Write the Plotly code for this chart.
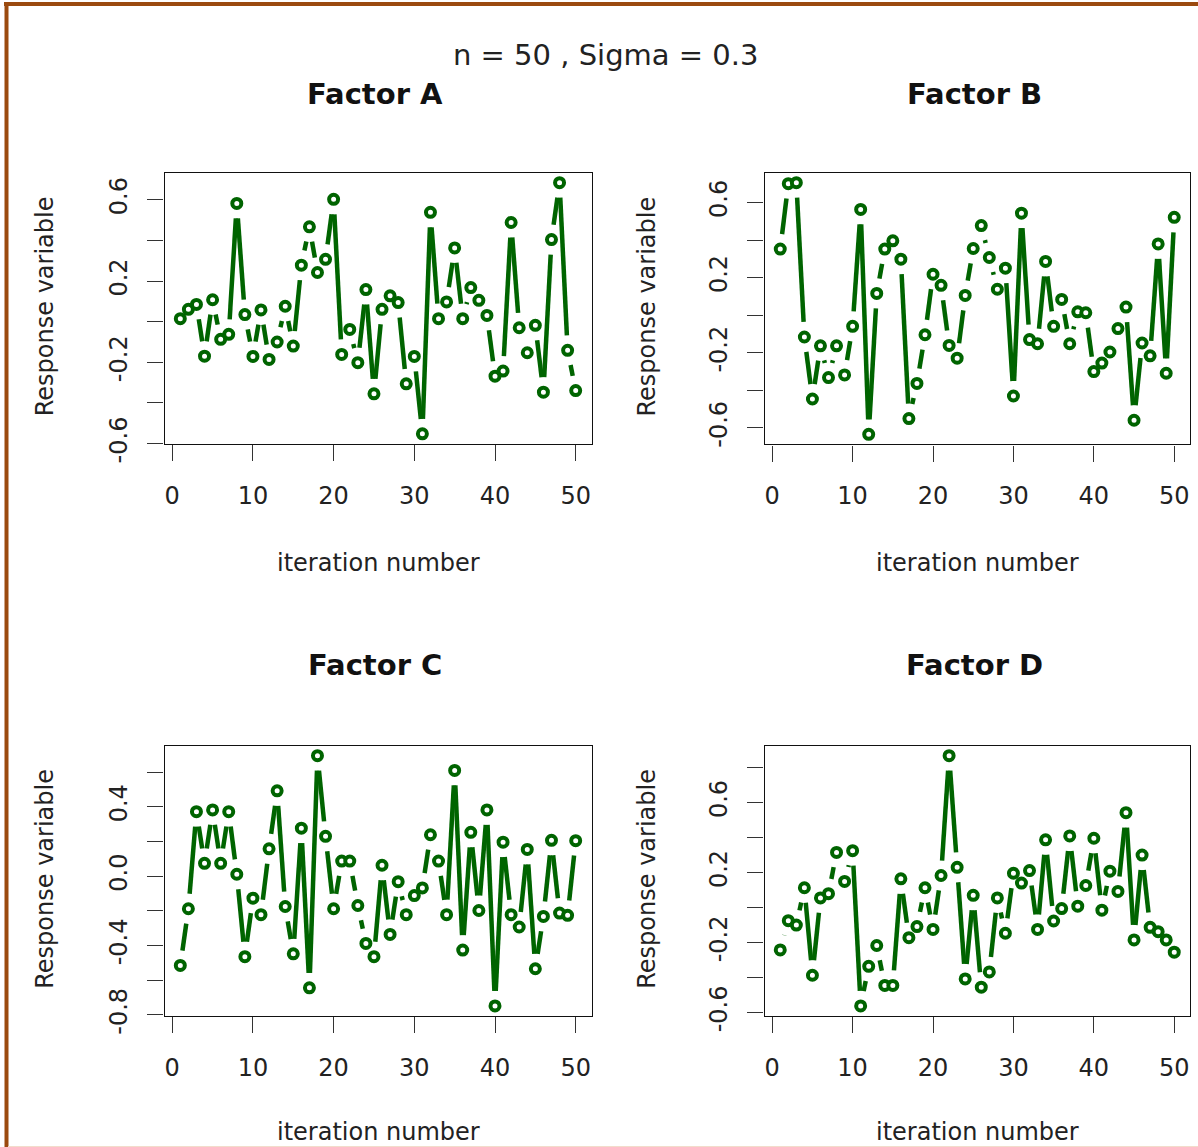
import math
import plotly.graph_objects as go

W, H = 1198, 1147          # target picture size (px)
FIG_H = 1168               # figure height (the page photo is squeezed to H)

# ---------------- data ----------------
iterations = list(range(1, 51))

factor_a = [0.015, 0.061, 0.085, -0.170, 0.108, -0.087, -0.062, 0.582, 0.035, -0.171,
            0.058, -0.186, -0.100, 0.076, -0.120, 0.278, 0.467, 0.242, 0.307, 0.602,
            -0.161, -0.038, -0.202, 0.158, -0.355, 0.061, 0.127, 0.094, -0.306, -0.171,
            -0.552, 0.538, 0.015, 0.097, 0.363, 0.015, 0.168, 0.105, 0.031, -0.268,
            -0.243, 0.488, -0.030, -0.153, -0.018, -0.347, 0.404, 0.684, -0.141, -0.339]

factor_b = [0.352, 0.700, 0.705, -0.116, -0.446, -0.163, -0.332, -0.163, -0.318, -0.059,
            0.563, -0.634, 0.116, 0.352, 0.396, 0.298, -0.550, -0.363, -0.104, 0.218,
            0.159, -0.161, -0.229, 0.105, 0.355, 0.477, 0.307, 0.138, 0.250, -0.430,
            0.543, -0.130, -0.152, 0.286, -0.059, 0.084, -0.152, 0.018, 0.013, -0.300,
            -0.255, -0.196, -0.071, 0.043, -0.559, -0.148, -0.216, 0.379, -0.309, 0.521]

factor_c = [-0.515, -0.188, 0.372, 0.074, 0.382, 0.074, 0.372, 0.011, -0.464, -0.127,
            -0.222, 0.158, 0.492, -0.175, -0.448, 0.277, -0.644, 0.695, 0.230, -0.188,
            0.087, 0.087, -0.169, -0.388, -0.464, 0.063, -0.336, -0.032, -0.222, -0.112,
            -0.068, 0.239, 0.087, -0.222, 0.610, -0.426, 0.253, -0.198, 0.382, -0.748,
            0.196, -0.222, -0.293, 0.154, -0.534, -0.232, 0.207, -0.213, -0.226, 0.205]

factor_d = [-0.242, -0.075, -0.100, 0.113, -0.387, 0.055, 0.079, 0.315, 0.149, 0.325,
            -0.562, -0.336, -0.217, -0.445, -0.445, 0.164, -0.172, -0.109, 0.113, -0.125,
            0.183, 0.868, 0.230, -0.408, 0.070, -0.455, -0.368, 0.055, -0.147, 0.196,
            0.140, 0.211, -0.125, 0.387, -0.077, -0.006, 0.409, 0.008, 0.126, 0.396,
            -0.015, 0.208, 0.092, 0.542, -0.185, 0.300, -0.113, -0.138, -0.185, -0.255]

panel_titles = ["Factor A", "Factor B", "Factor C", "Factor D"]
main_title = "n = 50 , Sigma = 0.3"
x_title = "iteration number"
y_title = "Response variable"

x_tick_vals = [0, 10, 20, 30, 40, 50]
x_tick_text = ["0", "10", "20", "30", "40", "50"]

y_ticks_a = [-0.6, -0.4, -0.2, 0.0, 0.2, 0.4, 0.6]
y_text_a = ["-0.6", "", "-0.2", "", "0.2", "", "0.6"]
y_ticks_b = [-0.6, -0.4, -0.2, 0.0, 0.2, 0.4, 0.6]
y_text_b = ["-0.6", "", "-0.2", "", "0.2", "", "0.6"]
y_ticks_c = [-0.8, -0.6, -0.4, -0.2, 0.0, 0.2, 0.4, 0.6]
y_text_c = ["-0.8", "", "-0.4", "", "0.0", "", "0.4", ""]
y_ticks_d = [-0.6, -0.4, -0.2, 0.0, 0.2, 0.4, 0.6, 0.8]
y_text_d = ["-0.6", "", "-0.2", "", "0.2", "", "0.6", ""]

series = [factor_a, factor_b, factor_c, factor_d]
y_ticks = [y_ticks_a, y_ticks_b, y_ticks_c, y_ticks_d]
y_texts = [y_text_a, y_text_b, y_text_c, y_text_d]

# ---------------- layout geometry (target pixels) ----------------
boxes = [(164.5, 591.5, 172.5, 443.5),
         (764.5, 1190.0, 172.5, 444.0),
         (164.5, 591.5, 745.0, 1015.0),
         (764.5, 1190.0, 745.0, 1015.0)]

GREEN = "#006400"
FONT = "DejaVu Sans"
TXT = "#222222"
GAP_PX = 15
VS = FIG_H / H   # vertical stretch before the squeeze


def fx(p):
    return p / W


def fy(p):
    return 1 - p / H


def pad_range(lo, hi):
    d = (hi - lo) * 0.04
    return [lo - d, hi + d]


def gapped_segments(xs, ys, xr, yr, wpx, hpx, gap):
    """Segments between consecutive points, stopping short of each point (R type='b')."""
    sx = wpx / (xr[1] - xr[0])
    sy = hpx / (yr[1] - yr[0])
    ox, oy = [], []
    for k in range(len(xs) - 1):
        dxp = (xs[k + 1] - xs[k]) * sx
        dyp = (ys[k + 1] - ys[k]) * sy
        dist = math.hypot(dxp, dyp)
        if dist <= 2 * gap:
            continue
        f = gap / dist
        dx = xs[k + 1] - xs[k]
        dy = ys[k + 1] - ys[k]
        ox += [xs[k] + f * dx, xs[k + 1] - f * dx, None]
        oy += [ys[k] + f * dy, ys[k + 1] - f * dy, None]
    return ox, oy


fig = go.Figure()
layout = dict(
    width=W, height=FIG_H,
    margin=dict(l=0, r=0, t=0, b=0),
    paper_bgcolor="white", plot_bgcolor="white",
    showlegend=False,
    annotations=[], shapes=[],
)

for i, vals in enumerate(series):
    n = i + 1
    xa = "x" if n == 1 else f"x{n}"
    ya = "y" if n == 1 else f"y{n}"
    l, r, t, b = boxes[i]
    xr = pad_range(min(iterations), max(iterations))
    yr = pad_range(min(vals), max(vals))

    sx_, sy_ = gapped_segments(iterations, vals, xr, yr, r - l, b - t, GAP_PX)
    fig.add_trace(go.Scatter(x=sx_, y=sy_, mode="lines", connectgaps=False,
                             line=dict(color=GREEN, width=4.5),
                             xaxis=xa, yaxis=ya, hoverinfo="skip"))
    fig.add_trace(go.Scatter(x=iterations, y=vals, mode="markers",
                             marker=dict(color="white", size=9, symbol="circle",
                                         line=dict(color=GREEN, width=4)),
                             xaxis=xa, yaxis=ya))

    axis_common = dict(showline=True, mirror=True, linecolor="#111111", linewidth=1.3,
                       ticks="outside", tickwidth=1.3, tickcolor="#333333",
                       showgrid=False, zeroline=False,
                       tickfont=dict(family=FONT, size=24, color=TXT))
    xkey = "xaxis" if n == 1 else f"xaxis{n}"
    ykey = "yaxis" if n == 1 else f"yaxis{n}"
    layout[xkey] = dict(axis_common, domain=[fx(l), fx(r)], anchor=ya, range=xr,
                        ticklen=round(16 * VS),
                        tickmode="array", tickvals=x_tick_vals, ticktext=x_tick_text,
                        ticklabelstandoff=14)
    layout[ykey] = dict(axis_common, domain=[fy(b), fy(t)], anchor=xa, range=yr,
                        ticklen=16,
                        tickmode="array", tickvals=y_ticks[i], ticktext=y_texts[i],
                        tickangle=-90, ticklabelstandoff=11)

    cx = (l + r) / 2
    title_y = 94 if i < 2 else 664
    xt_y = 563 if i < 2 else 1131
    yt_x = 45 if i % 2 == 0 else 647
    yt_y = (t + b) / 2 - 2
    layout["annotations"] += [
        dict(text=f"<b>{panel_titles[i]}</b>", x=fx(cx - 3), y=fy(title_y), xref="paper", yref="paper",
             showarrow=False, xanchor="center", yanchor="middle",
             font=dict(family=FONT, size=29, color="#111111")),
        dict(text=x_title, x=fx(cx), y=fy(xt_y), xref="paper", yref="paper",
             showarrow=False, xanchor="center", yanchor="middle",
             font=dict(family=FONT, size=24, color=TXT)),
        dict(text=y_title, x=fx(yt_x), y=fy(yt_y), xref="paper", yref="paper",
             showarrow=False, xanchor="center", yanchor="middle", textangle=-90,
             font=dict(family=FONT, size=24, color=TXT)),
    ]

layout["annotations"].append(
    dict(text=main_title, x=fx(605), y=fy(55), xref="paper", yref="paper",
         showarrow=False, xanchor="center", yanchor="middle",
         font=dict(family=FONT, size=29, color=TXT)))

BROWN = "#9B4A0F"
layout["shapes"] += [
    dict(type="line", xref="paper", yref="paper", x0=fx(4), x1=1, y0=fy(4), y1=fy(4),
         line=dict(color=BROWN, width=4)),
    dict(type="line", xref="paper", yref="paper", x0=fx(6.5), x1=fx(6.5), y0=fy(2), y1=0,
         line=dict(color=BROWN, width=4)),
    dict(type="line", xref="paper", yref="paper", x0=fx(8), x1=1, y0=fy(1146), y1=fy(1146),
         line=dict(color="#F2DCCB", width=2)),
]

fig.update_layout(**layout)

post = "document.documentElement.style.margin='0';document.body.style.margin='0';"
fig.write_html("out.html", post_script=post, config={"displayModeBar": False})
